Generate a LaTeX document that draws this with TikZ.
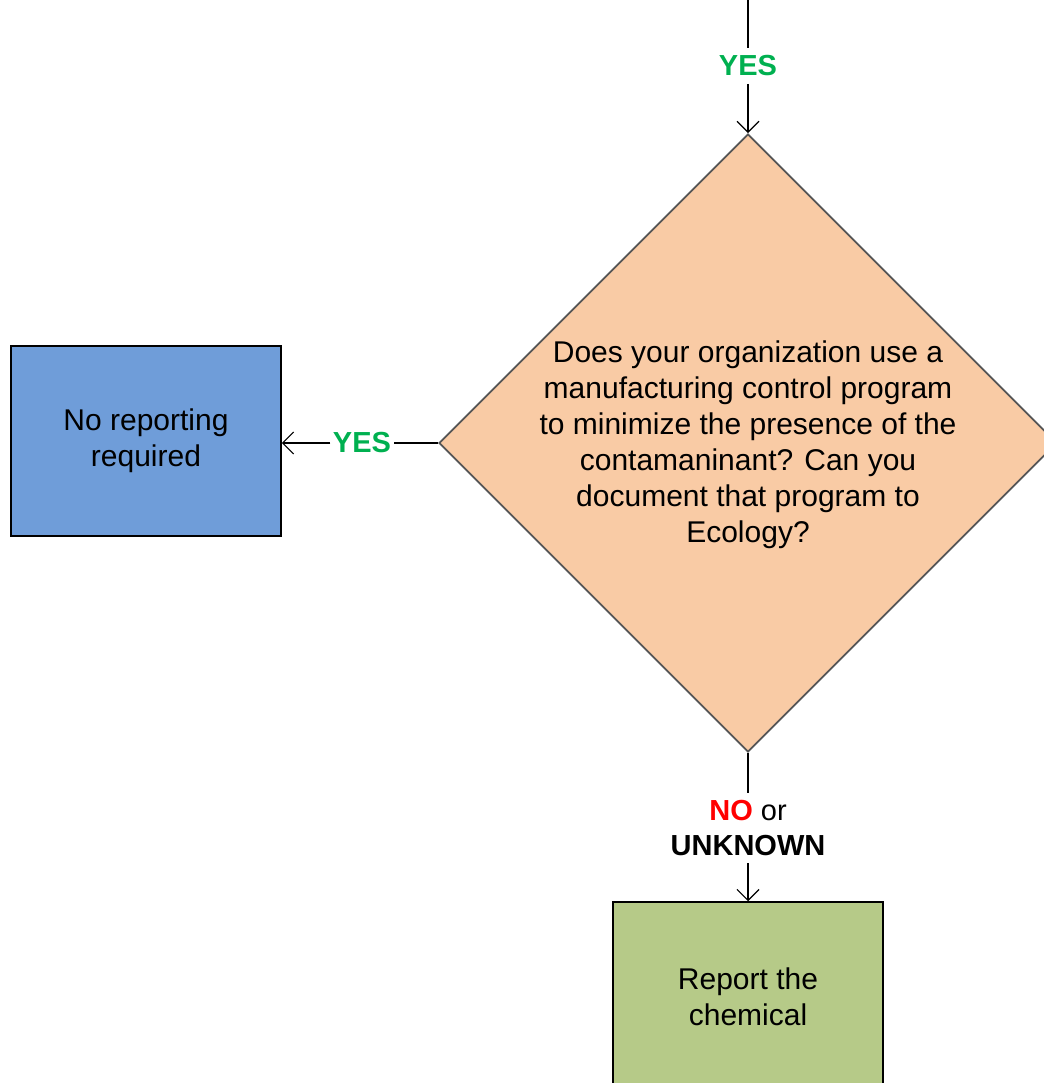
\documentclass[tikz,border=0pt]{standalone}
\usepackage{fontspec}
\setmainfont{Liberation Sans}
\usetikzlibrary{shapes.geometric,arrows.meta}

\definecolor{askfill}{RGB}{249,203,165}
\definecolor{askline}{RGB}{85,85,85}
\definecolor{nofill}{RGB}{111,157,217}
\definecolor{reportfill}{RGB}{182,202,136}
\definecolor{yesgreen}{RGB}{0,176,80}
\definecolor{nored}{RGB}{255,0,0}

\begin{document}
\begin{tikzpicture}[x=1pt, y=-1pt,
  >={Straight Barb[length=11pt, width=22pt]},
  every path/.style={line width=1.2pt},
  txt/.style={font=\fontsize{30}{36}\selectfont, align=center},
  endbox/.style={txt, draw=black, line width=1.5pt, minimum width=270pt,
    minimum height=190pt},
  answer/.style={font=\fontsize{29}{35}\selectfont\bfseries, align=center,
    inner sep=5pt}
]
  \useasboundingbox (0, 0) rectangle (1043, 1083);

  % question
  \node[diamond, draw=askline, fill=askfill, line width=1.8pt,
    minimum width=618pt, minimum height=618pt, inner sep=0pt]
    (ask) at (748, 443) {};
  \node[txt] (asktext) at (748, 445)
    {Does your organization use a\\
     manufacturing control program\\
     to minimize the presence of the\\
     contamaninant? Can you\\
     document that program to\\
     Ecology?};

  % outcomes
  \node[endbox, fill=nofill] (noreport) at (146, 441)
    {No reporting\\required};
  \node[endbox, fill=reportfill] (report) at (748, 997)
    {Report the\\chemical};

  % incoming branch
  \coordinate (top) at (748, 0);
  \node[answer, text=yesgreen, inner sep=7pt] (yestop) at (748, 66) {YES};
  \draw (top) -- (yestop);
  \draw[->] (yestop) -- (ask.north);

  % yes branch
  \node[answer, text=yesgreen, inner sep=2pt] (yesleft) at (362, 443) {YES};
  \draw (ask.west) -- (yesleft);
  \draw[->] (yesleft) -- (yesleft -| noreport.east);

  % no branch
  \node[answer, inner sep=7pt] (nobranch) at (748, 828)
    {\textcolor{nored}{NO} \mdseries or\\UNKNOWN};
  \draw (ask.south) -- (nobranch);
  \draw[->] (nobranch) -- (report.north);
\end{tikzpicture}
\end{document}
